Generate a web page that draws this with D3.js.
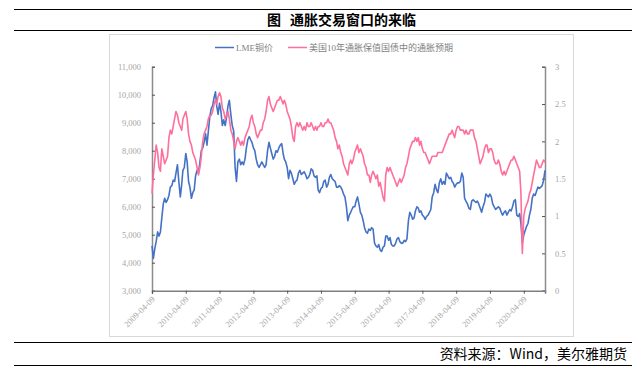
<!DOCTYPE html>
<html>
<head>
<meta charset="utf-8">
<script src="https://cdn.jsdelivr.net/npm/d3@7"></script>
<style>
body { margin:0; background:#fff; }
text { font-family: "Liberation Serif", "Noto Sans CJK SC", serif; }
</style>
</head>
<body>
<div id="chart"></div>
<script>
// start date of the series, two readings per month (9th and 24th)
var startDate = "2009-04-09";

// LME copper, two values per month
var copper = [
 4600,4150, 4500,4750, 5100,4950, 5100,5600, 6100,6300, 6150,6250, 6400,6700, 6750,6950, 6900,7200,
 7500,6900, 6350,6800, 7300,7400, 7900,7600, 6900,6700, 6300,6500, 6600,7100, 7300,7200, 7600,8000, 8100,8300, 8600,8200, 8700,9200,
 9500,9600, 9900,10100, 9600,9300, 9700,9400, 8900,9100, 8900,9200, 9600,9800, 9300,8900, 8700,7400, 6900,7600, 7700,7500, 7600,7500,
 7700,8100, 8400,8500, 8400,8300, 8100,8000, 7700,7500, 7400,7500, 7600,7500, 7400,7500, 8000,8300, 8100,7900, 7700,7800, 8000,7950,
 8100,8200, 8250,7900, 7700,7600, 7400,7000, 7300,7200, 7000,6800, 6900,6950, 7200,7300, 7150,7200, 7250,7150, 7000,7050, 7150,7350,
 7300,7100, 7050,7100, 6600,6500, 6650,6700, 6900,6950, 6700,6800, 7050,7150, 7000,6950, 6900,6700, 6700,6750, 6700,6600, 6450,6350,
 6000,5500, 5700,5800, 5900,6000, 6000,6200, 6350,6100, 5800,5700, 5500,5250, 5100,5050, 5200,5150, 5250,5200, 4700,4600, 4550,4650,
 4450,4400, 4550,4600, 4950,4950, 4800,4900, 4650,4600, 4600,4700, 4850,4900, 4750,4700, 4700,4800, 4750,4850, 5500,5800, 5700,5550,
 5600,5850, 6000,5950, 5800,5850, 5700,5650, 5550,5650, 5700,5800, 5900,6350, 6500,6800, 6600,6500, 6850,7000, 6800,6900, 6800,7200,
 7100,7000, 7050,6900, 6850,6700, 6800,6850, 6850,6900, 7200,7050, 6300,6200, 6100,5950, 5900,6200, 6250,6200, 6150,6200, 6100,5950,
 5800,6000, 6150,6450, 6400,6350, 6450,6350, 6100,6000, 5900,5950, 6000,5950, 5800,5700, 5800,5850, 5700,5800, 5900,5850, 6000,6200,
 6250,5700, 5650,5750, 5400,4700, 5000,5150, 5300,5400, 5700,5900, 6300,6450, 6400,6550, 6700,6650, 6700,6750, 6950,7300
];

// US 10y TIPS breakeven (%), same dates
var breakeven = [
 1.30,1.55, 1.75,1.95, 1.85,1.65, 1.60,1.90, 1.80,1.70, 1.75,1.80, 2.05,2.15, 2.10,2.20, 2.30,2.40,
 2.35,2.25, 2.20,2.15, 2.30,2.35, 2.40,2.30, 2.10,2.00, 1.95,1.85, 1.80,1.75, 1.65,1.55, 1.65,1.80, 2.00,2.10, 2.15,2.20, 2.30,2.35,
 2.35,2.40, 2.50,2.55, 2.50,2.60, 2.65,2.60, 2.45,2.40, 2.30,2.35, 2.40,2.30, 2.15,2.10, 2.00,1.90, 2.00,2.05, 2.00,1.95, 2.00,1.95,
 2.05,2.10, 2.15,2.20, 2.30,2.35, 2.25,2.20, 2.10,2.05, 2.10,2.15, 2.15,2.25, 2.30,2.40, 2.55,2.60, 2.50,2.45, 2.40,2.45, 2.50,2.55,
 2.55,2.60, 2.55,2.50, 2.55,2.50, 2.40,2.35, 2.30,2.20, 2.05,2.00, 2.20,2.25, 2.20,2.25, 2.20,2.15, 2.20,2.15, 2.25,2.20, 2.20,2.25,
 2.20,2.15, 2.20,2.15, 2.20,2.20, 2.25,2.20, 2.20,2.25, 2.25,2.30, 2.25,2.25, 2.20,2.15, 2.05,2.00, 1.90,1.95, 1.85,1.80, 1.70,1.65,
 1.60,1.55, 1.70,1.75, 1.70,1.75, 1.85,1.90, 1.95,1.85, 1.90,1.85, 1.80,1.70, 1.65,1.55, 1.55,1.45, 1.55,1.60, 1.55,1.50, 1.55,1.40,
 1.45,1.35, 1.25,1.20, 1.55,1.65, 1.60,1.65, 1.60,1.55, 1.50,1.45, 1.40,1.45, 1.50,1.45, 1.50,1.55, 1.65,1.70, 1.80,1.90, 1.95,2.00,
 2.00,2.05, 2.00,2.05, 1.95,2.00, 1.90,1.85, 1.85,1.80, 1.75,1.70, 1.75,1.80, 1.80,1.80, 1.80,1.85, 1.85,1.85, 1.85,1.90, 1.95,2.00,
 2.05,2.10, 2.10,2.15, 2.10,2.05, 2.15,2.20, 2.20,2.15, 2.15,2.15, 2.10,2.15, 2.10,2.10, 2.15,2.15, 2.15,2.05, 2.00,1.90, 1.80,1.70,
 1.75,1.80, 1.90,1.95, 1.95,1.85, 1.90,1.90, 1.85,1.75, 1.70,1.70, 1.75,1.70, 1.60,1.55, 1.60,1.55, 1.60,1.65, 1.70,1.75, 1.75,1.80,
 1.75,1.70, 1.65,1.60, 1.30,0.50, 1.00,1.10, 1.15,1.20, 1.30,1.35, 1.45,1.55, 1.65,1.75, 1.70,1.65, 1.65,1.70, 1.75,1.72
];

var leftTicks = [3000, 4000, 5000, 6000, 7000, 8000, 9000, 10000, 11000];
var rightTicks = [0, 0.5, 1, 1.5, 2, 2.5, 3];
var xTickLabels = ["2009-04-09","2010-04-09","2011-04-09","2012-04-09","2013-04-09","2014-04-09",
                   "2015-04-09","2016-04-09","2017-04-09","2018-04-09","2019-04-09","2020-04-09"];
var seriesNames = ["LME铜价", "美国10年通胀保值国债中的通胀预期"];
var title = "通胀交易窗口的来临";
var source = "资料来源：Wind，美尔雅期货";

var blue = "#4472C4", pink = "#FF6F9C", axisGrey = "#8c8c8c", labelGrey = "#a6a6a6";

var parse = d3.timeParse("%Y-%m-%d");
var t0 = parse(startDate);
var dates = copper.map(function(d, i) {
  var m = d3.timeMonth.offset(t0, Math.floor(i / 2));
  return i % 2 ? d3.timeDay.offset(m, 15) : m;
});

var W = 642, H = 372;
var svg = d3.select("#chart").append("svg")
  .attr("width", W).attr("height", H);

// frame lines + title
svg.append("line").attr("x1", 14).attr("x2", 632).attr("y1", 9.5).attr("y2", 9.5)
  .attr("stroke", "#000").attr("stroke-width", 1.2);
svg.append("line").attr("x1", 14).attr("x2", 632).attr("y1", 30.5).attr("y2", 30.5)
  .attr("stroke", "#000").attr("stroke-width", 1.2);
svg.append("text").attr("x", 267).attr("y", 25)
  .style("font-family", "'Noto Sans CJK SC'").style("font-size", "14px").style("font-weight", "bold")
  .text("图");
svg.append("text").attr("x", 290).attr("y", 25)
  .style("font-family", "'Noto Sans CJK SC'").style("font-size", "14px").style("font-weight", "bold")
  .text(title);

// chart area box
svg.append("rect").attr("x", 109.5).attr("y", 34.5).attr("width", 464).attr("height", 302)
  .attr("fill", "#fff").attr("stroke", "#d9d9d9");

// footer
svg.append("line").attr("x1", 14).attr("x2", 632).attr("y1", 342.5).attr("y2", 342.5)
  .attr("stroke", "#000").attr("stroke-width", 1.2);
svg.append("line").attr("x1", 14).attr("x2", 632).attr("y1", 365.5).attr("y2", 365.5)
  .attr("stroke", "#000").attr("stroke-width", 1.2);
svg.append("text").attr("x", 627).attr("y", 359).attr("text-anchor", "end")
  .style("font-family", "'Noto Sans CJK SC'").style("font-size", "14px")
  .text(source);

// scales
var x = d3.scaleTime().domain([dates[0], dates[dates.length - 1]]).range([152, 545]);
var yL = d3.scaleLinear().domain([3000, 11000]).range([290.7, 66.7]);
var yR = d3.scaleLinear().domain([0, 3]).range([290.7, 66.7]);

var fmtL = d3.format(",");

// left axis
var gL = svg.append("g").attr("transform", "translate(152,0)")
  .call(d3.axisLeft(yL).tickValues(leftTicks).tickSize(-3).tickFormat(fmtL).tickPadding(11));
// right axis
var gR = svg.append("g").attr("transform", "translate(545,0)")
  .call(d3.axisRight(yR).tickValues(rightTicks).tickSize(-3).tickFormat(d3.format("")).tickPadding(10));
// bottom axis
var tickDates = xTickLabels.map(parse);
var gB = svg.append("g").attr("transform", "translate(0,290.7)")
  .call(d3.axisBottom(x).tickValues(tickDates).tickSize(3).tickFormat(d3.timeFormat("%Y-%m-%d")));

[gL, gR, gB].forEach(function(g) {
  g.select(".domain").attr("stroke", axisGrey).attr("stroke-width", 1.5);
  g.selectAll(".tick line").attr("stroke", "#555");
  g.selectAll("text").attr("fill", labelGrey).style("font-size", "8.5px")
    .style("font-family", "'Liberation Serif', serif");
});
gB.select(".domain").attr("stroke", "#7f7f7f");
gB.selectAll("text")
  .attr("text-anchor", "end")
  .attr("dy", null).attr("y", 0)
  .attr("transform", "translate(3,9) rotate(-45)");

// lines
var lineL = d3.line().x(function(d, i) { return x(dates[i]); }).y(function(d) { return yL(d); });
var lineR = d3.line().x(function(d, i) { return x(dates[i]); }).y(function(d) { return yR(d); });

svg.append("path").datum(copper).attr("d", lineL)
  .attr("fill", "none").attr("stroke", blue).attr("stroke-width", 1.6).attr("stroke-linejoin", "round");
svg.append("path").datum(breakeven).attr("d", lineR)
  .attr("fill", "none").attr("stroke", pink).attr("stroke-width", 1.6).attr("stroke-linejoin", "round");

// legend
var legend = [{ name: seriesNames[0], color: blue, x: 215 }, { name: seriesNames[1], color: pink, x: 288 }];
legend.forEach(function(l) {
  svg.append("line").attr("x1", l.x).attr("x2", l.x + 19).attr("y1", 47.5).attr("y2", 47.5)
    .attr("stroke", l.color).attr("stroke-width", 1.5);
  svg.append("text").attr("x", l.x + 21).attr("y", 50.5)
    .attr("fill", "#7f7f7f").style("font-size", "9px")
    .style("font-family", "'Liberation Serif', 'Noto Sans CJK SC', serif")
    .text(l.name);
});
</script>
</body>
</html>
